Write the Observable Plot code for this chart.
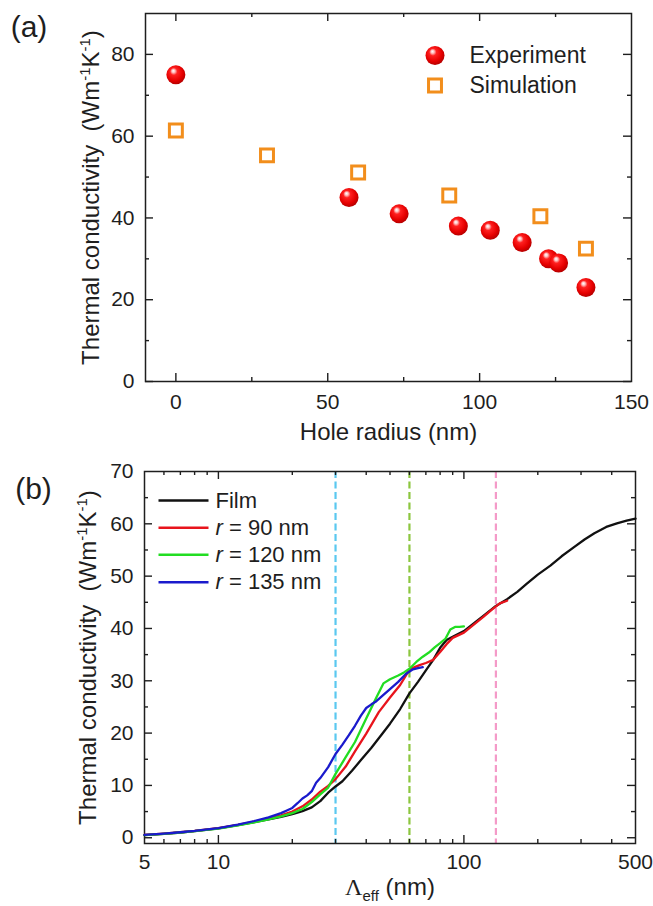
<!DOCTYPE html>
<html><head><meta charset="utf-8">
<script src="https://cdn.jsdelivr.net/npm/d3@7"></script>
<script src="https://cdn.jsdelivr.net/npm/@observablehq/plot@0.6"></script>
<style>
html,body{margin:0;padding:0;background:#fff;}
#chart{position:relative;width:653px;height:906px;background:#fff;}
#chart svg{display:block;}
</style></head><body><div id="chart"></div>
<script>
// ---------- Panel (a) data ----------
const expR = [0, 57, 73.5, 93, 103.5, 114, 122.7, 126, 135];
const expK = [75, 45, 41, 38, 37, 34, 30, 29, 23];
const simR = [0, 30, 60, 90, 120, 135];
const simK = [61.4, 55.3, 51.1, 45.5, 40.4, 32.5];
const seriesA = ["Experiment", "Simulation"];
const aXTicks = [0, 50, 100, 150];
const aXMinor = [25, 75, 125];
const aYTicks = [0, 20, 40, 60, 80];
const aYMinor = [10, 30, 50, 70];
const aXTitle = "Hole radius (nm)";

// ---------- Panel (b) data ----------
const filmX = [5,6,7,8,10,12,14,16,18,20,22,24,26,28,30,32,35,38,42,46,50,55,60,65,70,75,80,85,90,100,110,120,135,150,165,180,200,225,250,280,310,340,380,420,460,500];
const filmK = [0.5,0.75,1.0,1.25,1.8,2.4,3.0,3.5,4.0,4.5,5.1,5.8,7.0,8.6,9.8,10.8,12.8,14.8,17.2,19.6,21.8,24.6,27.6,29.8,32.0,34.0,36.3,37.8,38.4,39.5,41.0,42.4,44.3,45.6,47.0,48.5,50.3,52.0,53.8,55.5,57.0,58.2,59.4,60.1,60.6,61.0];
const r90X = [5,6,7,8,10,12,14,16,18,20,22,24,26,28,30,33,36,40,45,50,55,58,60,63,66,70,75,80,85,90,100,110,120,130,140,150];
const r90K = [0.55,0.8,1.05,1.3,1.85,2.45,3.1,3.7,4.3,5.0,6.0,7.3,8.8,9.9,11.2,13.6,16.5,19.9,24.0,26.8,29.2,31.0,32.2,32.6,33.0,33.4,34.0,35.5,37.0,38.2,39.2,40.8,42.2,43.6,44.8,45.3];
const r120X = [5,6,7,8,10,12,14,16,18,20,22,24,26,28,30,33,36,40,44,47,50,54,57,60,64,68,72,76,80,84,88,92,96,100];
const r120K = [0.5,0.75,1.0,1.25,1.75,2.35,2.95,3.5,4.1,4.7,5.5,6.8,8.3,9.6,12.2,15.4,18.3,22.8,26.8,29.5,30.3,31.0,31.6,32.3,33.6,34.6,35.4,36.4,37.2,38.0,39.8,40.3,40.3,40.4];
const r135X = [5,6,7,8,10,12,14,16,18,19,20,21,22,23,24,25,26,28,30,32,34,36,38,40,42,44,47,50,54,58,62,65,68];
const r135K = [0.55,0.8,1.05,1.3,1.85,2.5,3.2,3.9,4.7,5.2,5.7,6.6,7.5,8.1,8.9,10.5,11.4,13.5,16.0,17.8,19.6,21.4,23.3,24.8,25.5,26.1,27.3,28.4,29.8,31.3,32.2,32.4,32.6];
const seriesB = ["Film", "r = 90 nm", "r = 120 nm", "r = 135 nm"];
const dashX = [30, 60, 135];
const bXTicks = [5, 10, 100, 500];
const bXMajor = [10, 100];
const bXMinor = [6,7,8,9,20,30,40,50,60,70,80,90,200,300,400];
const bYTicks = [0, 10, 20, 30, 40, 50, 60, 70];
const bYMinor = [5, 15, 25, 35, 45, 55, 65];

// ---------- styles ----------
const FONT = '"Liberation Sans", Arial, sans-serif';
const INK = "#1e1e1e";
const ORANGE = "#f28e1c";
const lineColors = ["#111111", "#e8141c", "#22dd22", "#1a1acc"];
const dashColors = ["#5bc8f0", "#8cc63f", "#f49ac8"];
const MAJ = 8, MIN = 4;

function frameTicks(xMaj, xMin, yMaj, yMin, fw, fh) {
  const s = {stroke: INK, strokeWidth: 1.4};
  return [
    Plot.tickX(xMaj, {...s, insetTop: fh - MAJ}),
    Plot.tickX(xMaj, {...s, insetBottom: fh - MAJ}),
    Plot.tickX(xMin, {...s, insetTop: fh - MIN}),
    Plot.tickX(xMin, {...s, insetBottom: fh - MIN}),
    Plot.tickY(yMaj, {...s, insetRight: fw - MAJ}),
    Plot.tickY(yMaj, {...s, insetLeft: fw - MAJ}),
    Plot.tickY(yMin, {...s, insetRight: fw - MIN}),
    Plot.tickY(yMin, {...s, insetLeft: fw - MIN}),
    Plot.frame({stroke: INK, strokeWidth: 1.5})
  ];
}

const yTitleParts = [["Thermal conductivity\u00a0\u00a0(Wm", ""], ["-1", "sup"], ["K", ""], ["-1", "sup"], [")", ""]];
const yTitle = yTitleParts.map(p => p[0]).join("");
const bXTitleParts = [["\u039b", "serif"], ["eff", "sub"], [" (nm)", ""]];
const bXTitle = bXTitleParts.map(p => p[0]).join("");

// ---------- Panel (a) ----------
const aW = 653, aH = 440, aL = 145, aR = 22, aT = 13, aB = 59;
const aFW = aW - aL - aR, aFH = aH - aT - aB;
const expData = expR.map((r, i) => ({r, k: expK[i]}));
const simData = simR.map((r, i) => ({r, k: simK[i]}));

const plotA = Plot.plot({
  width: aW, height: aH, marginLeft: aL, marginRight: aR, marginTop: aT, marginBottom: aB,
  style: {fontFamily: FONT, color: INK, background: "#fff", overflow: "visible"},
  x: {domain: [-10, 150]},
  y: {domain: [0, 90]},
  marks: [
    ...frameTicks(aXTicks.slice(0, 3), aXMinor, aYTicks, aYMinor, aFW, aFH),
    Plot.axisX({ticks: aXTicks, tickSize: 0, tickPadding: 13, fontSize: 21, label: null, fill: INK}),
    Plot.axisY({ticks: aYTicks, tickSize: 0, tickPadding: 11, fontSize: 21, label: null, fill: INK}),
    Plot.dot(simData, {x: "r", y: "k", symbol: "square", r: 7.3, stroke: ORANGE, strokeWidth: 3, fill: "none"}),
    Plot.dot(expData, {x: "r", y: "k", r: 9.5, fill: "url(#sphereA)"}),
    // legend
    Plot.dot([seriesA[0]], {frameAnchor: "top-left", dx: 289.5, dy: 42, r: 9.5, fill: "url(#sphereA)"}),
    Plot.dot([seriesA[1]], {frameAnchor: "top-left", dx: 289.5, dy: 72, symbol: "square", r: 7.3, stroke: ORANGE, strokeWidth: 3, fill: "none"}),
    Plot.text([seriesA[0]], {frameAnchor: "top-left", dx: 324, dy: 42, textAnchor: "start", lineAnchor: "middle", fontSize: 23, fill: INK}),
    Plot.text([seriesA[1]], {frameAnchor: "top-left", dx: 324, dy: 72, textAnchor: "start", lineAnchor: "middle", fontSize: 23, fill: INK}),
    // titles
    Plot.text([aXTitle], {frameAnchor: "bottom", dy: 51, textAnchor: "middle", lineAnchor: "middle", fontSize: 24, fill: INK}),
    Plot.text([yTitle], {frameAnchor: "left", dx: -54.5, rotate: -90, textAnchor: "middle", lineAnchor: "middle", fontSize: 24, fill: INK}),
    Plot.text(["(a)"], {frameAnchor: "top-left", dx: -116.5, dy: 13.5, textAnchor: "middle", lineAnchor: "middle", fontSize: 30, fill: INK})
  ]
});

// ---------- Panel (b) ----------
const bW = 653, bH = 466, bL = 144, bR = 18, bT = 31, bB = 63;
const bFW = bW - bL - bR, bFH = bH - bT - bB;
const curves = [
  filmX.map((x, i) => ({x, k: filmK[i]})),
  r90X.map((x, i) => ({x, k: r90K[i]})),
  r120X.map((x, i) => ({x, k: r120K[i]})),
  r135X.map((x, i) => ({x, k: r135K[i]}))
];
const legendDy = [29, 56.3, 83.3, 110.7];
const lineSym = {draw(ctx) { ctx.moveTo(-25, 0); ctx.lineTo(25, 0); }};

const plotB = Plot.plot({
  width: bW, height: bH, marginLeft: bL, marginRight: bR, marginTop: bT, marginBottom: bB,
  style: {fontFamily: FONT, color: INK, background: "#fff", overflow: "visible"},
  x: {type: "log", domain: [5, 500]},
  y: {domain: [-1.1, 70]},
  marks: [
    ...dashX.map((v, i) => Plot.ruleX([v], {stroke: dashColors[i], strokeWidth: 2.2, strokeDasharray: "7,3.5"})),
    ...frameTicks(bXMajor, bXMinor, bYTicks.slice(0, 7), bYMinor, bFW, bFH),
    Plot.axisX({ticks: bXTicks, tickFormat: d => String(d), tickSize: 0, tickPadding: 11, fontSize: 21, label: null, fill: INK}),
    Plot.axisY({ticks: bYTicks, tickSize: 0, tickPadding: 11, fontSize: 21, label: null, fill: INK}),
    ...curves.map((c, i) => Plot.line(c, {x: "x", y: "k", stroke: lineColors[i], strokeWidth: 2.3})),
    // legend
    ...seriesB.map((s, i) => Plot.dot([s], {frameAnchor: "top-left", dx: 39, dy: legendDy[i], symbol: lineSym, stroke: lineColors[i], strokeWidth: 2.6, fill: "none"})),
    ...seriesB.map((s, i) => Plot.text([s], {frameAnchor: "top-left", dx: 71, dy: legendDy[i], textAnchor: "start", lineAnchor: "middle", fontSize: 22, fill: INK})),
    // titles
    Plot.text([bXTitle], {frameAnchor: "bottom", dy: 44, textAnchor: "middle", lineAnchor: "middle", fontSize: 24, fill: INK}),
    Plot.text([yTitle], {frameAnchor: "left", dx: -56.5, rotate: -90, textAnchor: "middle", lineAnchor: "middle", fontSize: 24, fill: INK}),
    Plot.text(["(b)"], {frameAnchor: "top-left", dx: -111, dy: 17.5, textAnchor: "middle", lineAnchor: "middle", fontSize: 30, fill: INK})
  ]
});

// ---------- rich text (superscripts, subscripts, italics) ----------
function rich(svg, plain, parts, base) {
  d3.select(svg).selectAll("text").filter(function() { return this.textContent === plain; }).each(function() {
    const t = d3.select(this);
    t.text(null);
    let shift = 0;
    for (const [s, kind] of parts) {
      const ts = t.append("tspan").text(s);
      let target = 0;
      if (kind === "sup") { ts.attr("font-size", Math.round(base * 0.62)); target = -base * 0.38; }
      if (kind === "sub") { ts.attr("font-size", Math.round(base * 0.62)); target = base * 0.26; }
      if (kind === "it") ts.attr("font-style", "italic");
      if (kind === "serif") ts.attr("font-family", '"Liberation Serif", "Times New Roman", serif');
      if (target !== shift) { ts.attr("dy", target - shift); shift = target; }
    }
  });
}
rich(plotA, yTitle, yTitleParts, 24);
rich(plotB, yTitle, yTitleParts, 24);
rich(plotB, bXTitle, bXTitleParts, 24);
for (const s of seriesB.slice(1)) rich(plotB, s, [[s[0], "it"], [s.slice(1), ""]], 22);

// ---------- sphere gradient ----------
const defs = d3.select(plotA).insert("defs", ":first-child");
const grad = defs.append("radialGradient").attr("id", "sphereA")
  .attr("cx", 0.45).attr("cy", 0.42).attr("r", 0.6).attr("fx", 0.36).attr("fy", 0.28);
[[0, "#ffffff"], [0.14, "#ffc4c4"], [0.32, "#ff2020"], [0.72, "#e50000"], [1, "#b00000"]]
  .forEach(([o, c]) => grad.append("stop").attr("offset", o).attr("stop-color", c));

const chart = document.getElementById("chart");
chart.appendChild(plotA);
chart.appendChild(plotB);
</script></body></html>
